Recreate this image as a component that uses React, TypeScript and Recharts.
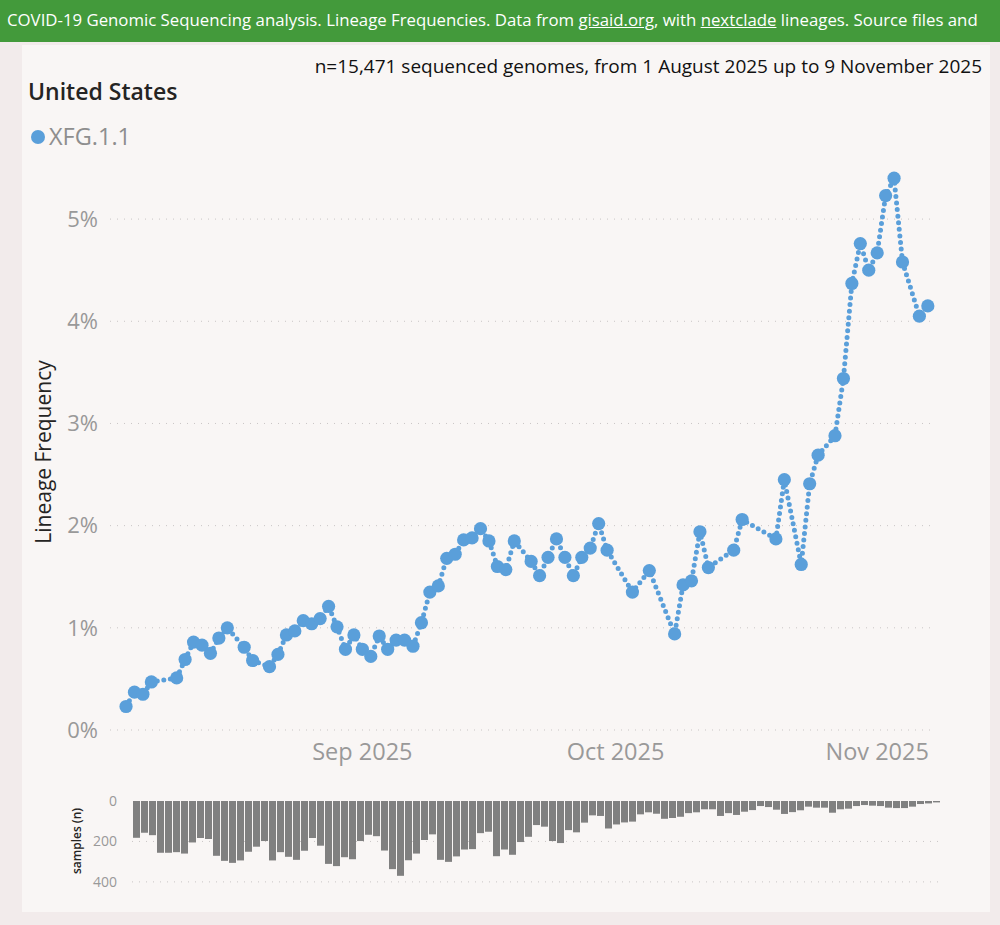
import React from 'react';
import { LineChart, Line, BarChart, Bar, XAxis, YAxis, CartesianGrid } from 'recharts';

// days counted from 1 Aug 2025 (day 0)
const lineDays = [
  3, 4, 5, 6, 9, 10, 11, 12, 13, 14, 15, 17, 18, 20, 21, 22, 23, 24, 25, 26, 27, 28, 29, 30, 31,
  32, 33, 34, 35, 36, 37, 38, 39, 40, 41, 42, 43, 44, 45, 46, 47, 48, 49, 51, 52, 53, 54, 55, 56,
  57, 58, 59, 60, 63, 65, 68, 69, 70, 71, 72, 75, 76, 80, 81, 83, 84, 85, 87, 88, 89, 90, 91, 92,
  93, 94, 95, 97, 98,
];
const lineFreq = [
  0.23, 0.37, 0.35, 0.47, 0.51, 0.69, 0.86, 0.83, 0.75, 0.9, 1.0, 0.81, 0.68, 0.62, 0.74, 0.93, 0.97,
  1.07, 1.04, 1.09, 1.21, 1.01, 0.79, 0.93, 0.79, 0.72, 0.92, 0.79, 0.88, 0.88, 0.82, 1.05, 1.35,
  1.41, 1.68, 1.72, 1.86, 1.88, 1.97, 1.85, 1.6, 1.57, 1.85, 1.65, 1.51, 1.69, 1.87, 1.69, 1.51,
  1.69, 1.78, 2.02, 1.76, 1.35, 1.56, 0.94, 1.42, 1.46, 1.94, 1.59, 1.76, 2.06, 1.87, 2.45, 1.62,
  2.41, 2.69, 2.88, 3.44, 4.37, 4.76, 4.5, 4.67, 5.23, 5.4, 4.58, 4.05, 4.15,
];

const tickDays = [31, 61, 92];
const tickLabels = ['Sep 2025', 'Oct 2025', 'Nov 2025'];
const freqTicks = [0, 1, 2, 3, 4, 5];

// samples per day, 1 Aug .. 9 Nov 2025
const samples = [
  182, 157, 169, 256, 256, 253, 260, 205, 183, 188, 271, 296, 306, 294, 251, 226, 198, 294, 253, 276,
  291, 246, 183, 221, 311, 322, 278, 288, 198, 167, 174, 245, 337, 370, 293, 260, 193, 165, 291, 301,
  274, 240, 238, 159, 152, 273, 240, 266, 203, 177, 119, 127, 198, 208, 144, 155, 107, 71, 74, 136,
  116, 106, 102, 66, 56, 63, 88, 84, 78, 60, 56, 41, 41, 74, 60, 69, 53, 45, 25, 30,
  43, 64, 55, 46, 28, 33, 33, 58, 41, 38, 25, 20, 23, 25, 33, 35, 35, 28, 15, 12,
  7,
];
const sampleTicks = [0, 200, 400];

const BLUE = '#5A9FDA';
const FONT = '"Open Sans", "Noto Sans", sans-serif';

const lineData = lineDays.map((d, i) => ({ day: d, freq: lineFreq[i] }));
const barData = samples.map((n, i) => ({ i, n }));

const BigDot = (p: any) => <circle key={`d${p.index}`} cx={p.cx} cy={p.cy} r={6.6} fill={BLUE} />;

export default function App() {
  return (
    <div style={{ position: 'absolute', left: 0, top: 0, width: 1000, height: 925, background: '#F2EBEB', fontFamily: FONT, overflow: 'hidden' }}>
      <div style={{ position: 'absolute', left: 0, top: 0, width: 1000, height: 42, background: '#439A3B', color: '#fff', fontSize: 16.8, lineHeight: '40px', paddingLeft: 7, whiteSpace: 'nowrap', overflow: 'hidden', boxSizing: 'border-box' }}>
        COVID-19 Genomic Sequencing analysis. Lineage Frequencies. Data from <u>gisaid.org</u>, with <u>nextclade</u> lineages. Source files and
      </div>
      <div style={{ position: 'absolute', left: 22, top: 45, width: 968, height: 867, background: '#F9F6F5' }} />

      <div style={{ position: 'absolute', right: 18, top: 53, fontSize: 19, color: '#111', whiteSpace: 'nowrap', lineHeight: '26px' }}>
        n=15,471 sequenced genomes, from 1 August 2025 up to 9 November 2025
      </div>
      <div style={{ position: 'absolute', left: 28, top: 75, fontSize: 23, fontWeight: 600, color: '#252423', lineHeight: '32px' }}>
        United States
      </div>
      <div style={{ position: 'absolute', left: 31, top: 130, width: 14, height: 14, borderRadius: 7, background: BLUE }} />
      <div style={{ position: 'absolute', left: 49, top: 120, fontSize: 23.5, color: '#8E8E8E', lineHeight: '32px' }}>XFG.1.1</div>

      <div style={{ position: 'absolute', left: 43, top: 452, transform: 'translate(-50%, -50%) rotate(-90deg)', fontSize: 21, fontWeight: 500, color: '#252423', whiteSpace: 'nowrap' }}>
        Lineage Frequency
      </div>
      <div style={{ position: 'absolute', left: 76, top: 841, transform: 'translate(-50%, -50%) rotate(-90deg)', fontSize: 12, fontWeight: 600, color: '#252423', whiteSpace: 'nowrap' }}>
        samples (n)
      </div>

      <div style={{ position: 'absolute', left: 0, top: 0 }}>
        <LineChart width={1000} height={780} data={lineData} margin={{ top: 168, right: 65, left: 50, bottom: 20 }}>
          <CartesianGrid vertical={false} horizontalValues={freqTicks} stroke="#C9C5C5" strokeDasharray="1 6" />
          <XAxis
            dataKey="day"
            type="number"
            domain={[1.1, 98.85]}
            allowDataOverflow
            ticks={tickDays}
            tickFormatter={(v: number) => tickLabels[tickDays.indexOf(v)]}
            axisLine={false}
            tickLine={false}
            tickMargin={7}
            height={30}
            tick={{ fontSize: 23.5, fill: '#999', fontFamily: FONT }}
          />
          <YAxis
            domain={[0, 5.5]}
            allowDataOverflow
            ticks={freqTicks}
            tickFormatter={(v: number) => `${v}%`}
            axisLine={false}
            tickLine={false}
            tickMargin={6}
            width={60}
            tick={{ fontSize: 22, fill: '#999', fontFamily: FONT }}
          />
          <Line
            type="linear"
            dataKey="freq"
            stroke={BLUE}
            strokeWidth={5}
            strokeDasharray="0 6.6"
            strokeLinecap="round"
            dot={BigDot}
            activeDot={false}
            isAnimationActive={false}
          />
        </LineChart>
      </div>

      <div style={{ position: 'absolute', left: 0, top: 790 }}>
        <BarChart width={1000} height={120} data={barData} margin={{ top: 11, right: 60, left: 72, bottom: 18 }} barCategoryGap={0}>
          <CartesianGrid vertical={false} horizontalValues={[200, 400]} stroke="#C9C5C5" strokeDasharray="1 6" />
          <XAxis dataKey="i" hide />
          <YAxis
            reversed
            domain={[0, 450]}
            ticks={sampleTicks}
            axisLine={false}
            tickLine={false}
            tickMargin={9}
            width={60}
            tick={{ fontSize: 14, fill: '#999', fontFamily: FONT }}
          />
          <Bar dataKey="n" fill="#808080" barSize={7} isAnimationActive={false} />
        </BarChart>
      </div>
    </div>
  );
}
